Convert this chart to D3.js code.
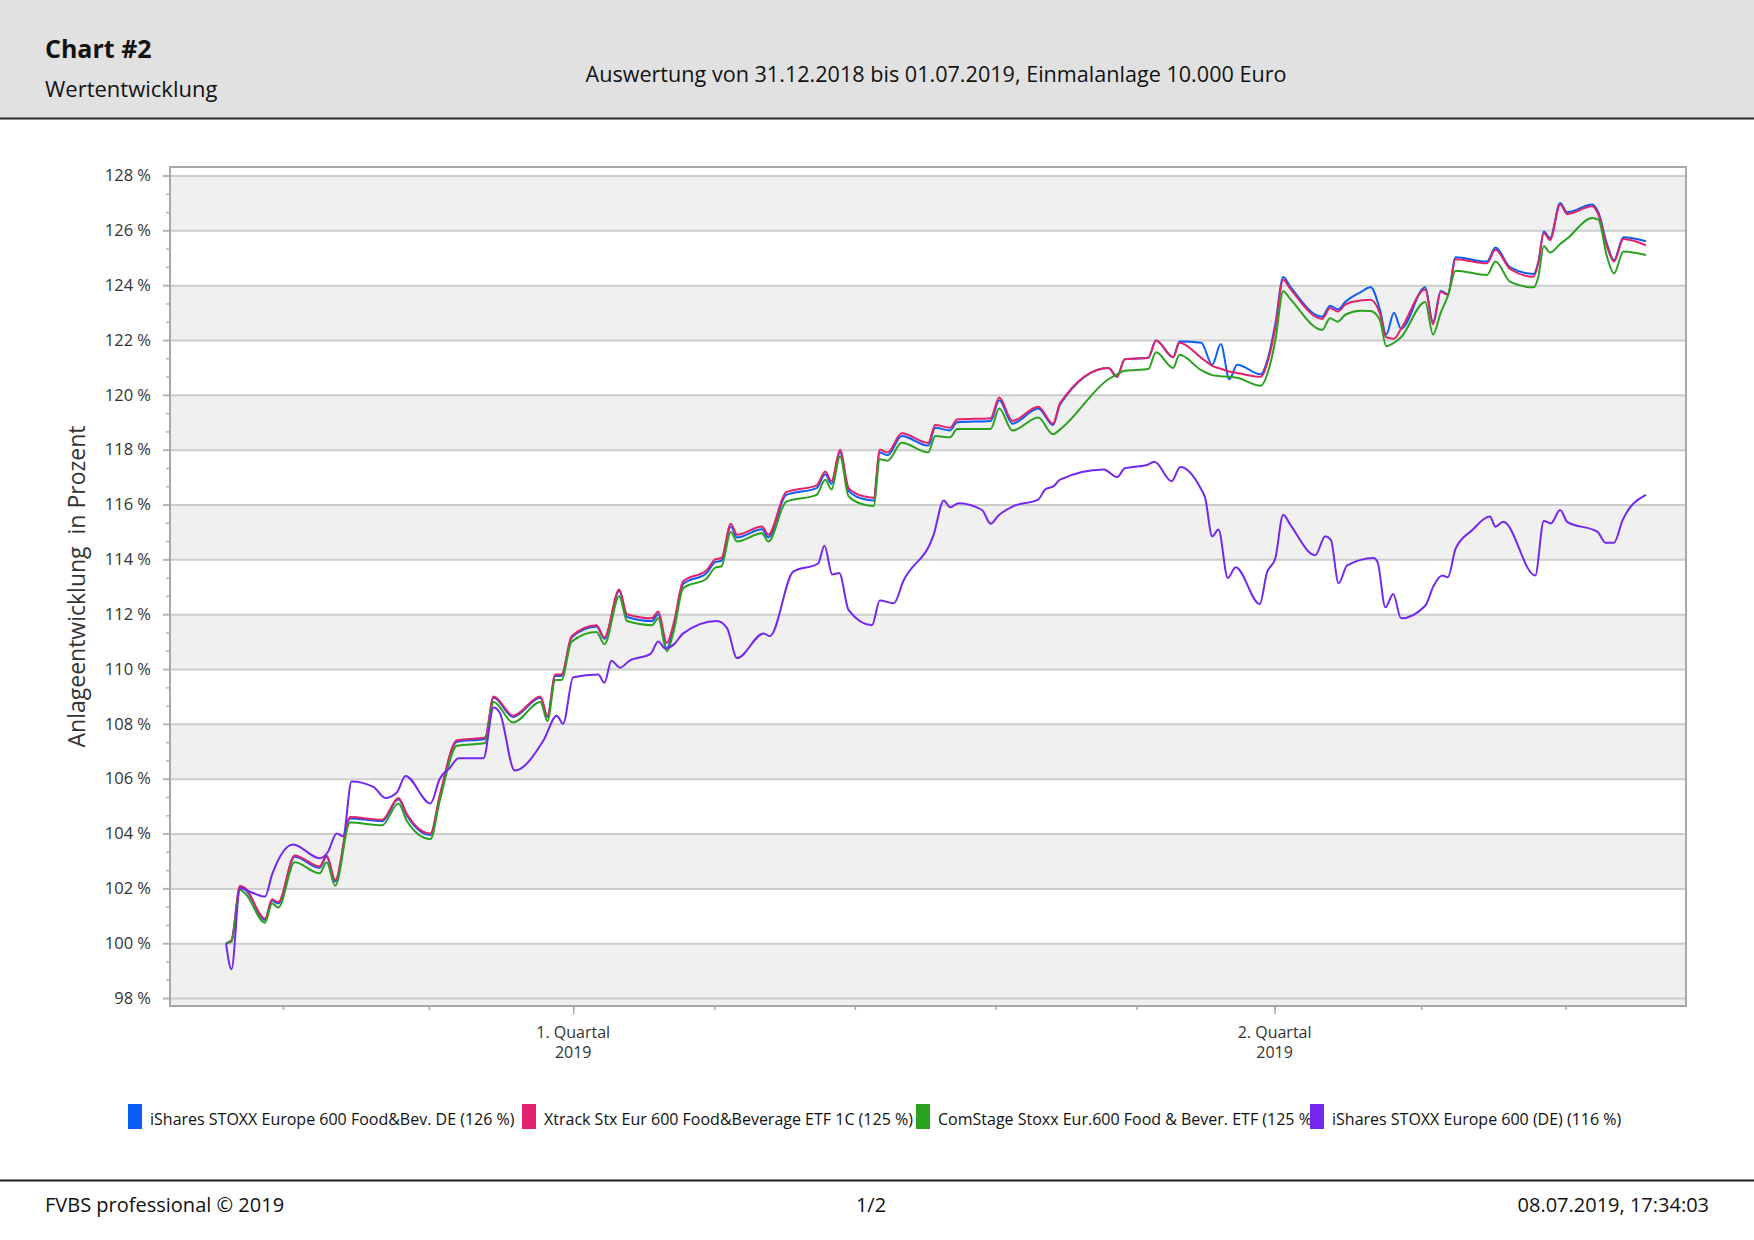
<!DOCTYPE html>
<html>
<head>
<meta charset="utf-8">
<title>Chart #2 - Wertentwicklung</title>
<script src="https://cdn.jsdelivr.net/npm/d3@7"></script>
<style>
  body { margin: 0; background: #fff; }
  svg { display: block; font-family: "Open Sans", "Noto Sans", sans-serif; }
</style>
</head>
<body>
<div id="chart"></div>
<script>
// Data (x = days after 31.12.2018, y = value in %)
const seriesNames = [
  "iShares STOXX Europe 600 Food&Bev. DE (126 %)",
  "Xtrack Stx Eur 600 Food&Beverage ETF 1C (125 %)",
  "ComStage Stoxx Eur.600 Food & Bever. ETF (125 %)",
  "iShares STOXX Europe 600 (DE) (116 %)",
];

const foodDays = [
  0, 0.7, 1.8, 2.5, 5, 5.9, 6.7, 8.8, 12, 12.9,
  14, 15.9, 20, 22.1, 23.2, 26.2, 27.4, 29.6, 33.2, 34.3,
  36.8, 40.3, 41.2, 42.2, 43, 44.3, 47.5, 48.5, 50.4, 51.4,
  54.6, 55.4, 56.5, 57.4, 58.6, 61.6, 62.7, 63.5, 64.7, 65.5,
  68.7, 69.5, 71.8, 75.7, 76.8, 77.6, 78.7, 79.8, 81.7, 83,
  83.8, 84.8, 86.6, 90, 90.9, 92.8, 93.7, 98, 99.1, 100.8,
  104.1, 106, 106.9, 113.1, 114.2, 115.2, 118.2, 119.2, 121.4, 122.2,
  125, 126.4, 127.5, 128.6, 129.6, 132.6, 133.6, 134.5, 135.5, 136.4,
  140.5, 141.5, 142.5, 143.5, 145.4, 146.7, 147.9, 148.7, 149.7, 150.6,
  153.7, 154.7, 155.7, 156.6, 157.6, 161.6, 162.7, 164.6, 167.6, 168.2,
  168.9, 169.7, 171, 171.9, 175.1, 175.9, 177, 177.9, 179.1, 182,
];

const ishFoodValues = [
  100.0, 100.1, 102.05, 101.95, 100.85, 101.55, 101.45, 103.15, 102.75, 103.15,
  102.25, 104.55, 104.45, 105.25, 104.65, 103.95, 105.35, 107.35, 107.45, 108.95,
  108.25, 108.95, 108.25, 109.75, 109.75, 111.15, 111.55, 111.1, 112.85, 111.9,
  111.75, 112.0, 110.75, 111.6, 113.1, 113.5, 113.9, 113.95, 115.2, 114.8,
  115.1, 114.8, 116.35, 116.6, 117.1, 116.75, 117.9, 116.5, 116.2, 116.15,
  117.9, 117.8, 118.5, 118.15, 118.8, 118.7, 119.0, 119.05, 119.8, 118.95,
  119.5, 118.9, 119.65, 120.98, 120.66, 121.3, 121.35, 121.98, 121.37, 121.95,
  121.9, 121.1, 121.85, 120.57, 121.1, 120.75, 121.4, 122.6, 124.3, 123.95,
  122.85, 123.25, 123.12, 123.4, 123.74, 123.92, 123.1, 122.2, 122.99, 122.41,
  123.92, 122.66, 123.79, 123.67, 125.02, 124.86, 125.37, 124.65, 124.41, 124.85,
  125.96, 125.72, 127.0, 126.66, 126.94, 126.65, 125.5, 124.92, 125.75, 125.6,
];

const xtrackValues = [
  100.0, 100.1, 102.1, 102.0, 100.9, 101.6, 101.5, 103.2, 102.8, 103.2,
  102.3, 104.6, 104.5, 105.3, 104.7, 104.0, 105.4, 107.4, 107.5, 109.0,
  108.3, 109.0, 108.3, 109.8, 109.8, 111.2, 111.6, 111.15, 112.9, 112.0,
  111.85, 112.1, 110.95, 111.7, 113.2, 113.6, 114.0, 114.05, 115.3, 114.9,
  115.2, 114.9, 116.45, 116.7, 117.2, 116.85, 118.0, 116.6, 116.3, 116.25,
  118.0, 117.9, 118.6, 118.25, 118.9, 118.8, 119.1, 119.15, 119.9, 119.05,
  119.57, 118.95, 119.7, 120.98, 120.66, 121.3, 121.35, 121.98, 121.37, 121.9,
  121.35, 121.06, 120.95, 120.85, 120.8, 120.66, 121.3, 122.46, 124.2, 123.87,
  122.77, 123.17, 123.04, 123.3, 123.44, 123.47, 122.96, 122.1, 122.05, 122.4,
  123.84, 122.57, 123.76, 123.64, 124.95, 124.8, 125.29, 124.58, 124.31, 124.8,
  125.9, 125.65, 126.94, 126.6, 126.88, 126.57, 125.41, 124.86, 125.68, 125.45,
];

const comstageValues = [
  100.0, 100.05, 101.95, 101.8, 100.75, 101.45, 101.3, 102.95, 102.55, 102.95,
  102.1, 104.4, 104.3, 105.1, 104.45, 103.8, 105.2, 107.2, 107.3, 108.8,
  108.05, 108.8, 108.1, 109.6, 109.6, 111.0, 111.35, 110.9, 112.65, 111.75,
  111.6, 111.85, 110.65, 111.4, 112.95, 113.3, 113.7, 113.75, 115.0, 114.65,
  114.95, 114.65, 116.1, 116.35, 116.9, 116.55, 117.75, 116.3, 116.0, 115.95,
  117.65, 117.6, 118.25, 117.9, 118.5, 118.45, 118.75, 118.75, 119.5, 118.7,
  119.17, 118.56, 118.74, 120.57, 120.75, 120.88, 120.94, 121.55, 120.98, 121.46,
  120.9, 120.72, 120.68, 120.66, 120.62, 120.33, 120.88, 122.0, 123.78, 123.5,
  122.37, 122.79, 122.67, 122.93, 123.07, 123.06, 122.72, 121.78, 121.9, 122.1,
  123.39, 122.2, 123.0, 123.6, 124.53, 124.37, 124.86, 124.12, 123.92, 124.31,
  125.43, 125.19, 125.5, 125.7, 126.45, 126.39, 125.04, 124.43, 125.23, 125.1,
];

const europeDays = [
  0, 0.7, 1.8, 3.3, 5, 5.9, 8.6, 12, 13, 14.2,
  15, 16.1, 18.9, 20.4, 21.9, 23, 26.2, 27.4, 28.7, 29.8,
  33, 34.3, 35.1, 37, 40.7, 42.4, 43.2, 44.5, 47.7, 48.5,
  49.4, 50.5, 51.7, 54.4, 55.4, 56.3, 57.4, 58.6, 62.9, 64.2,
  65.5, 68.9, 69.7, 72.7, 75.9, 76.7, 77.7, 78.6, 79.8, 82.8,
  83.8, 85.6, 86.8, 90.7, 92, 92.8, 93.9, 96.9, 98, 99,
  100.9, 104.1, 105, 106.1, 106.9, 112.5, 114.2, 115.2, 118, 119,
  121.2, 122.3, 124.9, 125.5, 126.4, 127.2, 128.4, 129.4, 132.5, 133.4,
  134.5, 135.5, 136.4, 139.6, 140.9, 141.6, 142.6, 143.7, 147.1, 147.6,
  148.6, 149.6, 150.6, 153.7, 154.8, 155.9, 156.6, 157.6, 159.7, 162,
  162.7, 163.7, 167.8, 168.9, 169.8, 171, 171.9, 175.8, 176.8, 177.9,
  179, 182,
];

const europeValues = [
  100.0, 99.05, 102.0, 101.85, 101.7, 102.5, 103.6, 103.1, 103.3, 104.0,
  103.9, 105.9, 105.7, 105.3, 105.5, 106.1, 105.1, 106.0, 106.4, 106.75,
  106.75, 108.6, 108.4, 106.3, 107.4, 108.3, 108.0, 109.7, 109.8, 109.5,
  110.3, 110.05, 110.3, 110.55, 111.0, 110.75, 110.9, 111.3, 111.75, 111.5,
  110.4, 111.3, 111.2, 113.55, 113.85, 114.5, 113.45, 113.5, 112.15, 111.6,
  112.5, 112.4, 113.2, 114.9, 116.15, 115.9, 116.05, 115.8, 115.3, 115.6,
  115.94, 116.18, 116.55, 116.67, 116.91, 117.28, 117.0, 117.32, 117.44, 117.56,
  116.85, 117.37, 116.6, 116.24, 114.84, 115.09, 113.32, 113.71, 112.37, 113.5,
  114.05, 115.63, 115.27, 114.15, 114.84, 114.72, 113.13, 113.78, 114.05, 113.9,
  112.25, 112.74, 111.85, 112.31, 113.05, 113.41, 113.35, 114.39, 115.06, 115.56,
  115.19, 115.37, 113.41, 115.4, 115.31, 115.8, 115.37, 115.0, 114.61, 114.61,
  115.43, 116.35,
];

const yTicks = [98, 100, 102, 104, 106, 108, 110, 112, 114, 116, 118, 120, 122, 124, 126, 128];
const xTickDays = [7.3, 26, 44.5, 62.6, 80.6, 98.6, 116.7, 134.4, 153.2, 171.7];
const quarterDays = [44.5, 134.4];
const quarterLabels = [["1. Quartal", "2019"], ["2. Quartal", "2019"]];

const seriesColors = ["#0b5ef5", "#e2226b", "#2aa11f", "#7427ee"];

function drawChart() {
  const W = 1754;
  const H = 1240;
  const plot = { left: 170, right: 1686, top: 167, bottom: 1006 };

  const svg = d3
    .select("#chart")
    .append("svg")
    .attr("width", W)
    .attr("height", H);

  // Header band
  svg.append("rect").attr("width", W).attr("height", 118).attr("fill", "#e1e1e1");
  svg
    .append("line")
    .attr("x1", 0)
    .attr("x2", W)
    .attr("y1", 118.5)
    .attr("y2", 118.5)
    .attr("stroke", "#2b2b2b")
    .attr("stroke-width", 2);

  svg
    .append("text")
    .attr("x", 45)
    .attr("y", 58)
    .style("font-size", "25px")
    .style("font-weight", "bold")
    .attr("fill", "#111")
    .text("Chart #2");

  svg
    .append("text")
    .attr("x", 45)
    .attr("y", 97)
    .style("font-size", "22px")
    .attr("fill", "#111")
    .text("Wertentwicklung");

  svg
    .append("text")
    .attr("x", 936)
    .attr("y", 82)
    .attr("text-anchor", "middle")
    .style("font-size", "21.6px")
    .attr("fill", "#111")
    .text("Auswertung von 31.12.2018 bis 01.07.2019, Einmalanlage 10.000 Euro");

  // Scales
  const x = d3.scaleLinear().domain([0, 182]).range([226, 1646]);
  const y = d3.scaleLinear().domain([97.71, 128.31]).range([plot.bottom, plot.top]);

  // Alternating bands between the grid lines
  const edges = [y.domain()[0], ...yTicks.slice(1), y.domain()[1]];
  const bands = d3.pairs(edges);
  svg
    .append("g")
    .selectAll("rect")
    .data(bands)
    .enter()
    .append("rect")
    .attr("x", plot.left)
    .attr("width", plot.right - plot.left)
    .attr("y", (d) => y(d[1]))
    .attr("height", (d) => y(d[0]) - y(d[1]))
    .attr("fill", (d, i) => (i % 2 === 0 ? "#f0f0f0" : "#ffffff"));

  // Grid lines (they also form the major ticks)
  svg
    .append("g")
    .attr("transform", `translate(${plot.left},0)`)
    .call(
      d3.axisLeft(y).tickValues(yTicks).tickSize(-(plot.right - plot.left)).tickFormat("")
    )
    .call((g) => g.select(".domain").remove())
    .call((g) => g.selectAll("line").attr("stroke", "#cccccc").attr("stroke-width", 2));

  const minorTicks = [];
  yTicks.slice(0, -1).forEach((t) => minorTicks.push(t + 2 / 3, t + 4 / 3));

  svg
    .append("g")
    .attr("transform", `translate(${plot.left},0)`)
    .call(d3.axisLeft(y).tickValues(minorTicks).tickSize(4).tickFormat(""))
    .call((g) => g.select(".domain").remove())
    .call((g) => g.selectAll("line").attr("stroke", "#b4b4b4").attr("stroke-width", 1.5));

  svg
    .append("g")
    .attr("transform", `translate(${plot.left},0)`)
    .call(
      d3.axisLeft(y).tickValues(yTicks).tickSize(7).tickPadding(12).tickFormat((d) => d + " %")
    )
    .call((g) => g.select(".domain").remove())
    .call((g) => g.selectAll("line").attr("stroke", "#b4b4b4").attr("stroke-width", 2))
    .call((g) =>
      g
        .selectAll("text")
        .attr("fill", "#333")
        .style("font-size", "16.5px")
        .style("font-family", '"Open Sans", sans-serif')
    );

  // X axis ticks
  svg
    .append("g")
    .attr("transform", `translate(0,${plot.bottom})`)
    .call(d3.axisBottom(x).tickValues(xTickDays).tickSize(4).tickFormat(""))
    .call((g) => g.select(".domain").remove())
    .call((g) => g.selectAll("line").attr("stroke", "#aaaaaa").attr("stroke-width", 1.5));

  svg
    .append("g")
    .attr("transform", `translate(0,${plot.bottom})`)
    .call(d3.axisBottom(x).tickValues(quarterDays).tickSize(8).tickFormat(""))
    .call((g) => g.select(".domain").remove())
    .call((g) => g.selectAll("line").attr("stroke", "#aaaaaa").attr("stroke-width", 1.5));

  const qLabel = svg
    .append("g")
    .selectAll("text")
    .data(quarterDays)
    .enter()
    .append("text")
    .attr("x", (d) => x(d))
    .attr("y", 1038)
    .attr("text-anchor", "middle")
    .attr("fill", "#333")
    .style("font-size", "16px");
  qLabel.append("tspan").text((d, i) => quarterLabels[i][0]);
  qLabel
    .append("tspan")
    .attr("x", (d) => x(d))
    .attr("dy", 20)
    .text((d, i) => quarterLabels[i][1]);

  // Plot frame
  svg
    .append("rect")
    .attr("x", plot.left)
    .attr("y", plot.top)
    .attr("width", plot.right - plot.left)
    .attr("height", plot.bottom - plot.top)
    .attr("fill", "none")
    .attr("stroke", "#a8a8a8")
    .attr("stroke-width", 2);

  // Y axis title
  svg
    .append("text")
    .attr("transform", `translate(85,${(plot.top + plot.bottom) / 2}) rotate(-90)`)
    .attr("text-anchor", "middle")
    .style("font-size", "23px")
    .style("white-space", "pre")
    .attr("fill", "#333")
    .text("Anlageentwicklung  in Prozent");

  // Lines
  svg
    .append("clipPath")
    .attr("id", "plot-clip")
    .append("rect")
    .attr("x", plot.left)
    .attr("y", plot.top)
    .attr("width", plot.right - plot.left)
    .attr("height", plot.bottom - plot.top);

  const series = [
    { days: foodDays, values: ishFoodValues },
    { days: foodDays, values: xtrackValues },
    { days: foodDays, values: comstageValues },
    { days: europeDays, values: europeValues },
  ];

  const line = d3
    .line()
    .x((d) => x(d[0]))
    .y((d) => y(d[1]))
    .curve(d3.curveMonotoneX);

  svg
    .append("g")
    .attr("clip-path", "url(#plot-clip)")
    .selectAll("path")
    .data(series)
    .enter()
    .append("path")
    .attr("d", (s) => line(d3.zip(s.days, s.values)))
    .attr("fill", "none")
    .attr("stroke", (s, i) => seriesColors[i])
    .attr("stroke-width", 2)
    .attr("stroke-linejoin", "round");

  // Legend, equal columns; long labels get cut by the next swatch
  const legendX = 128;
  const colW = 394;
  const legend = svg
    .append("g")
    .selectAll("g")
    .data(seriesNames)
    .enter()
    .append("g")
    .attr("transform", (d, i) => `translate(${legendX + i * colW},0)`);

  legend
    .append("clipPath")
    .attr("id", (d, i) => "leg-clip-" + i)
    .append("rect")
    .attr("x", 0)
    .attr("y", 1090)
    .attr("width", colW)
    .attr("height", 50);

  legend
    .append("text")
    .attr("x", 22)
    .attr("y", 1125)
    .attr("clip-path", (d, i) => `url(#leg-clip-${i})`)
    .attr("fill", "#111")
    .style("font-size", "16px")
    .text((d) => d);

  legend
    .append("rect")
    .attr("x", 0)
    .attr("y", 1104)
    .attr("width", 14)
    .attr("height", 25)
    .attr("fill", (d, i) => seriesColors[i]);

  // Footer
  svg
    .append("line")
    .attr("x1", 0)
    .attr("x2", W)
    .attr("y1", 1180.5)
    .attr("y2", 1180.5)
    .attr("stroke", "#1e1e1e")
    .attr("stroke-width", 2);

  const footer = [
    { text: "FVBS professional \u00a9 2019", x: 45, anchor: "start" },
    { text: "1/2", x: 871, anchor: "middle" },
    { text: "08.07.2019, 17:34:03", x: 1709, anchor: "end" },
  ];
  svg
    .append("g")
    .selectAll("text")
    .data(footer)
    .enter()
    .append("text")
    .attr("x", (d) => d.x)
    .attr("y", 1212)
    .attr("text-anchor", (d) => d.anchor)
    .attr("fill", "#111")
    .style("font-size", "20px")
    .text((d) => d.text);
}

drawChart();
</script>
</body>
</html>
